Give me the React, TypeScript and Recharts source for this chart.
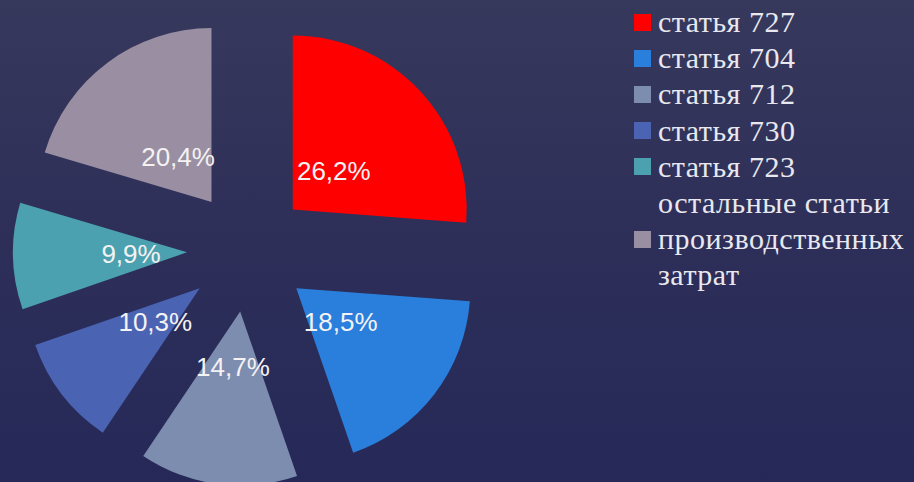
import React from 'react';
import { PieChart, Pie, Cell, Legend, Sector } from 'recharts';

const CATEGORIES = [
  'статья 727',
  'статья 704',
  'статья 712',
  'статья 730',
  'статья 723',
  'остальные статьи производственных затрат',
];
const SHARES = [26.2, 18.5, 14.7, 10.3, 9.9, 20.4];
const COLORS = ['#ff0000', '#2b7fdc', '#7d8daf', '#4a63b3', '#4ba1af', '#9a8ea2'];

const data = CATEGORIES.map((name, i) => ({ name, value: SHARES[i] }));

const RAD = Math.PI / 180;
const EXPLODE = 61;
const LABEL_OFFSET = 56;

const fmt = (v: number) => `${String(v).replace('.', ',')}%`;

function ExplodedSlice(props: any) {
  const { cx, cy, innerRadius, outerRadius, startAngle, endAngle, midAngle, index, value } = props;
  const dx = Math.cos(-midAngle * RAD);
  const dy = Math.sin(-midAngle * RAD);
  const sx = cx + EXPLODE * dx;
  const sy = cy + EXPLODE * dy;
  return (
    <g>
      <Sector
        cx={sx}
        cy={sy}
        innerRadius={innerRadius}
        outerRadius={outerRadius}
        startAngle={startAngle}
        endAngle={endAngle}
        fill={COLORS[index]}
        stroke="none"
      />
      <text
        x={sx + LABEL_OFFSET * dx}
        y={sy + LABEL_OFFSET * dy}
        textAnchor="middle"
        dominantBaseline="central"
        fill="#f4f2f2"
        fontFamily="'Liberation Sans', Arial, sans-serif"
        fontSize={26}
      >
        {fmt(value)}
      </text>
    </g>
  );
}

function LegendContent() {
  return (
    <div
      style={{
        fontFamily: "'Liberation Serif', 'Times New Roman', serif",
        fontSize: 30,
        letterSpacing: 0.5,
        lineHeight: '36.2px',
        color: '#e8e8ee',
      }}
    >
      {data.map((entry, i) => (
        <div key={i} style={{ display: 'flex', alignItems: 'center' }}>
          <span
            style={{
              display: 'inline-block',
              width: 17,
              height: 17,
              background: COLORS[i],
              marginRight: 7,
              flex: '0 0 auto',
            }}
          />
          <span style={{ width: 256, whiteSpace: 'normal' }}>{entry.name}</span>
        </div>
      ))}
    </div>
  );
}

export default function App() {
  return (
    <div
      style={{
        position: 'fixed',
        left: 0,
        top: 0,
        width: 914,
        height: 482,
        overflow: 'hidden',
        background: 'linear-gradient(180deg, #36385c 0%, #2d2f59 50%, #262958 100%)',
      }}
    >
      <PieChart width={914} height={482} margin={{ top: 0, right: 0, bottom: 0, left: 0 }}>
        <Pie
          data={data}
          dataKey="value"
          nameKey="name"
          cx={248}
          cy={251}
          innerRadius={0}
          outerRadius={174}
          startAngle={90}
          endAngle={-270}
          stroke="none"
          fillOpacity={0}
          labelLine={false}
          label={ExplodedSlice}
          isAnimationActive={false}
        >
          {data.map((_, i) => (
            <Cell key={i} fill={COLORS[i]} />
          ))}
        </Pie>
        <Legend
          layout="vertical"
          align="right"
          verticalAlign="top"
          content={LegendContent}
          wrapperStyle={{ left: 634, top: 4, width: 280, right: 'auto' }}
        />
      </PieChart>
    </div>
  );
}
